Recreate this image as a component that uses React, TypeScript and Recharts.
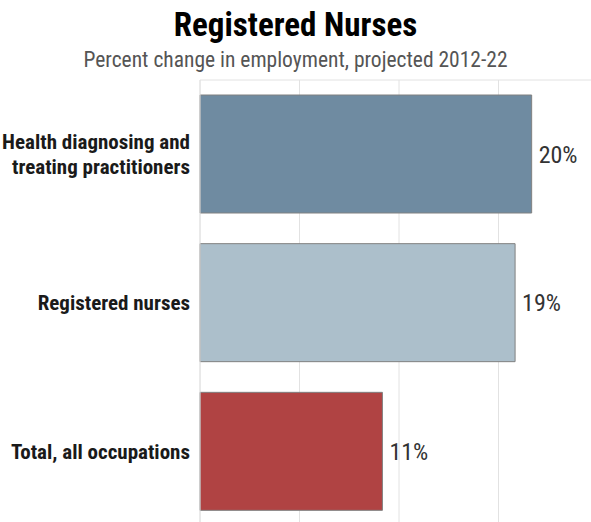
import { BarChart, Bar, XAxis, YAxis, CartesianGrid, Cell, LabelList } from 'recharts';

// Projected employment change 2012-22
const categories = ['Health diagnosing and\ntreating practitioners', 'Registered nurses', 'Total, all occupations'];
const changes = [20, 19, 11];
const barColors = ['#6f8ba1', '#acbfcb', '#b04343'];
const gridTicks = [0, 6, 12, 18, 24];

const data = categories.map((name, i) => ({ name, value: changes[i] }));

const FONT = '"Roboto Condensed", "Liberation Sans Narrow", "Arial Narrow", "DejaVu Sans Condensed", sans-serif';

/**
 * Right-aligned, bold, possibly two-line category label
 */
const CategoryTick = ({ x, y, payload }: any) => {
  const lines = String(payload.value).split('\n');
  const lineHeight = 25;
  const startY = y - ((lines.length - 1) * lineHeight) / 2;
  return (
    <text
      x={x - 2}
      y={startY}
      textAnchor="end"
      dominantBaseline="central"
      fontFamily={FONT}
      fontWeight="bold"
      fontSize={21}
      fill="#1a1a1a"
    >
      {lines.map((line, i) => (
        <tspan key={i} x={x - 2} dy={i === 0 ? 0 : lineHeight}>
          {line}
        </tspan>
      ))}
    </text>
  );
};

// x ticks exist only to drive the grid, so they draw nothing
const EmptyTick = () => <g />;

const App = () => {
  return (
    <div
      style={{
        position: 'absolute',
        left: 0,
        top: 0,
        width: 591,
        height: 522,
        overflow: 'hidden',
        background: '#fff',
      }}
    >
      {/* Title */}
      <div
        style={{
          position: 'absolute',
          top: 5,
          width: 591,
          textAlign: 'center',
          fontFamily: FONT,
          fontWeight: 'bold',
          fontSize: 33,
          color: '#000',
        }}
      >
        Registered Nurses
      </div>
      <div
        style={{
          position: 'absolute',
          top: 47,
          width: 591,
          textAlign: 'center',
          fontFamily: FONT,
          fontSize: 21.5,
          color: '#555',
        }}
      >
        Percent change in employment, projected 2012-22
      </div>

      {/* Chart */}
      <div style={{ position: 'absolute', top: 0, left: 0 }}>
        <BarChart
          width={600}
          height={530}
          data={data}
          layout="vertical"
          margin={{ top: 79, right: 2, bottom: 4, left: 0 }}
          barCategoryGap={15}
        >
          <CartesianGrid horizontal={false} vertical stroke="#e2e2e2" />
          <XAxis
            type="number"
            orientation="top"
            domain={[0, 24]}
            ticks={gridTicks}
            tick={<EmptyTick />}
            tickLine={false}
            axisLine={{ stroke: '#e2e2e2' }}
            height={1}
          />
          <YAxis
            type="category"
            dataKey="name"
            width={200}
            tickLine={false}
            axisLine={{ stroke: '#e2e2e2' }}
            tick={<CategoryTick />}
            interval={0}
          />
          <Bar dataKey="value" barSize={118} stroke="#808080" strokeWidth={1} isAnimationActive={false}>
            {data.map((entry, index) => (
              <Cell key={`cell-${index}`} fill={barColors[index]} />
            ))}
            <LabelList
              dataKey="value"
              position="right"
              offset={7}
              formatter={(v: any) => `${v}%`}
              fill="#333"
              fontFamily={FONT}
              fontSize={24}
            />
          </Bar>
        </BarChart>
      </div>
    </div>
  );
};

export default App;
